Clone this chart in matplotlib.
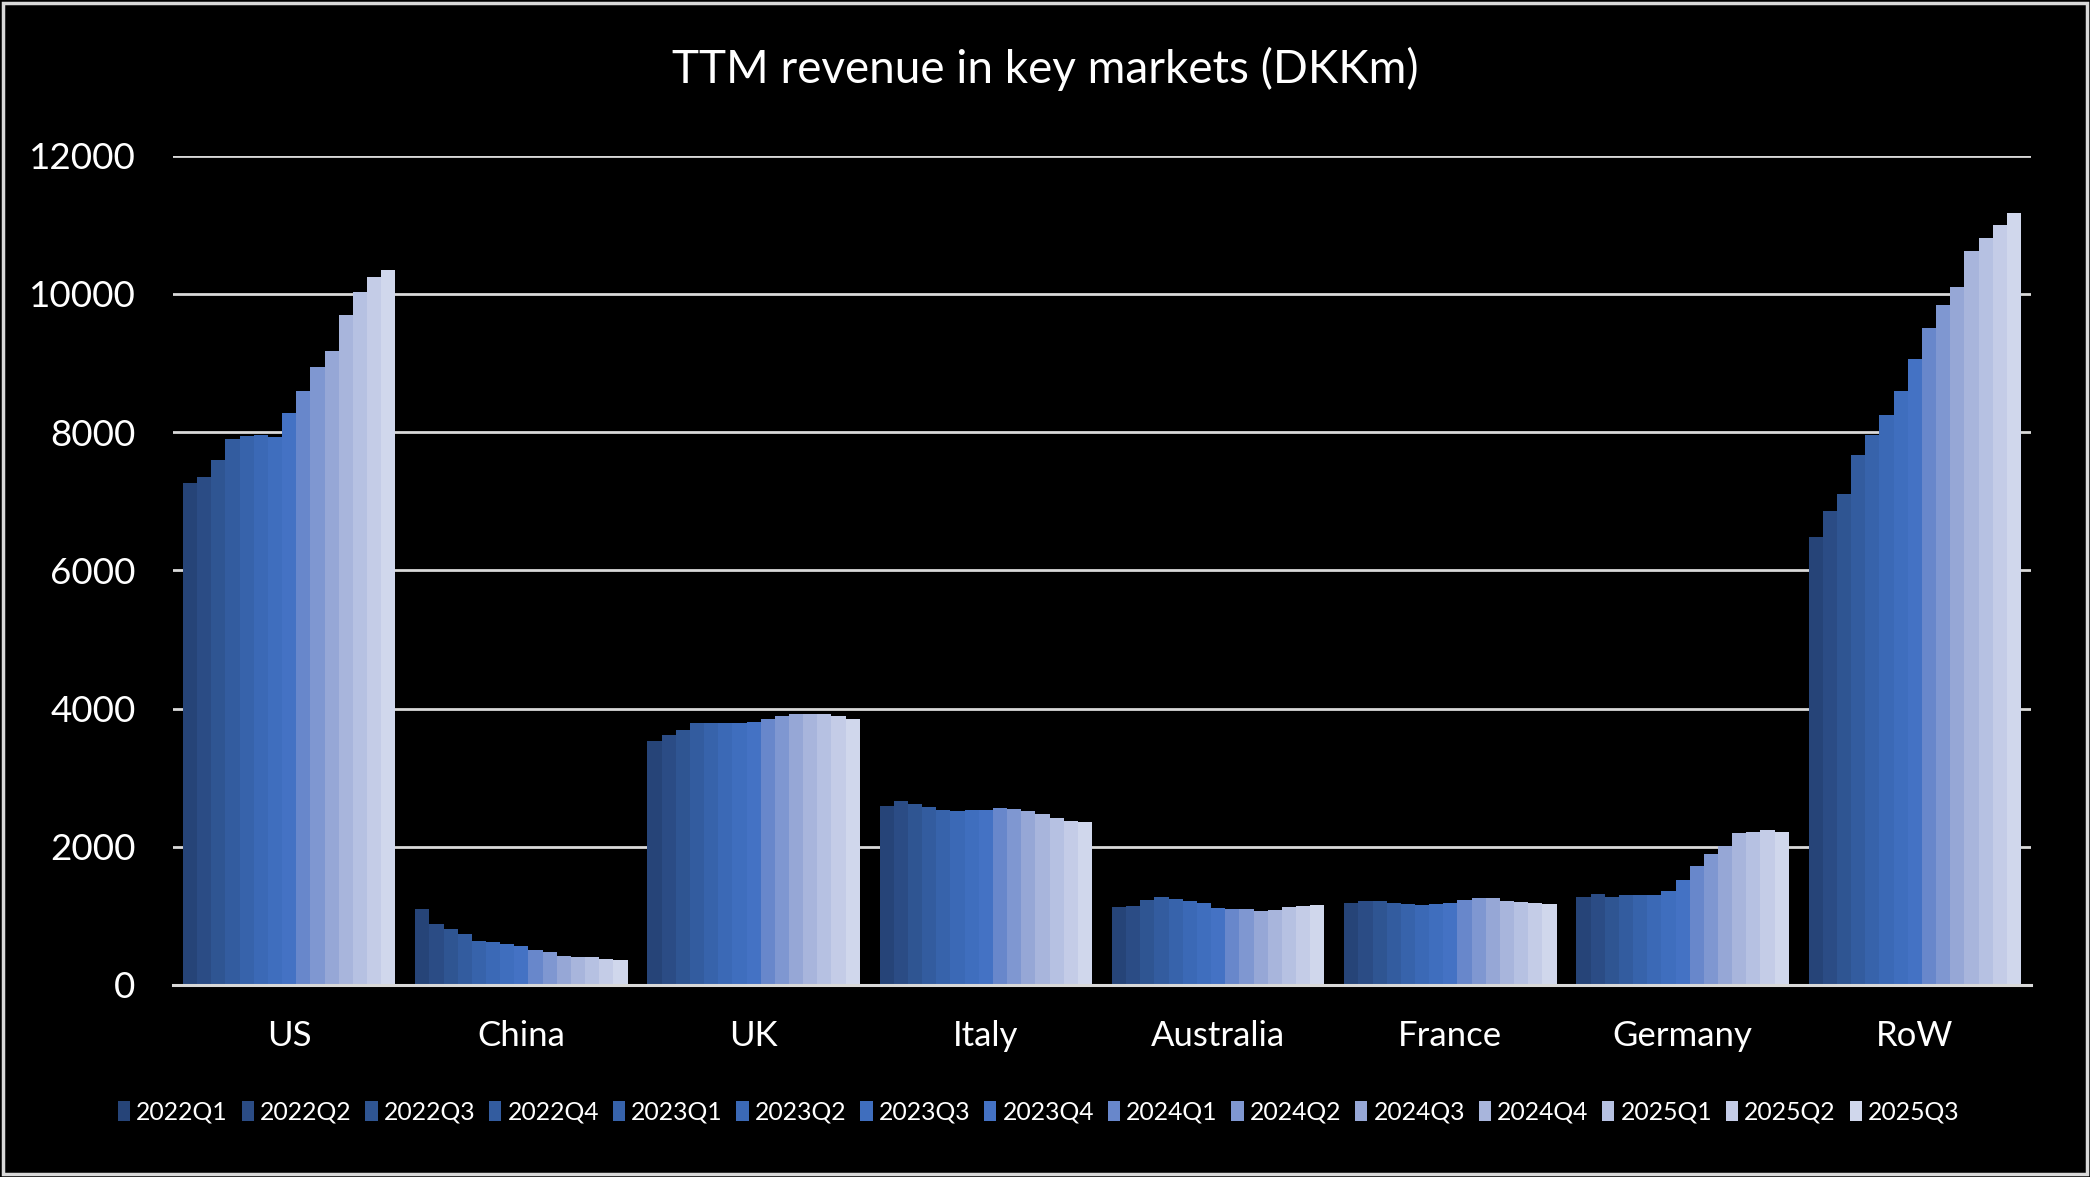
import matplotlib
matplotlib.use("Agg")
import matplotlib.pyplot as plt
from matplotlib.patches import Rectangle
import numpy as np

plt.rcParams['font.family'] = ['Lato', 'DejaVu Sans']

categories = ["US", "China", "UK", "Italy", "Australia", "France", "Germany", "RoW"]
quarters = ["2022Q1", "2022Q2", "2022Q3", "2022Q4", "2023Q1", "2023Q2", "2023Q3", "2023Q4",
            "2024Q1", "2024Q2", "2024Q3", "2024Q4", "2025Q1", "2025Q2", "2025Q3"]

us = [7270, 7350, 7600, 7900, 7950, 7960, 7930, 8280, 8600, 8940, 9170, 9700, 10030, 10240, 10340]
china = [1094, 877, 805, 733, 631, 617, 588, 559, 501, 472, 415, 400, 400, 371, 357]
uk = [3528, 3624, 3697, 3798, 3798, 3784, 3798, 3812, 3856, 3899, 3919, 3919, 3928, 3899, 3842]
italy = [2583, 2656, 2612, 2569, 2526, 2511, 2526, 2526, 2555, 2540, 2511, 2468, 2410, 2367, 2352]
australia = [1123, 1137, 1224, 1268, 1239, 1210, 1181, 1109, 1094, 1094, 1065, 1080, 1123, 1137, 1152]
france = [1181, 1210, 1210, 1181, 1166, 1152, 1166, 1181, 1224, 1253, 1253, 1210, 1195, 1181, 1166]
germany = [1268, 1311, 1277, 1297, 1297, 1297, 1354, 1513, 1716, 1889, 2015, 2193, 2217, 2236, 2208]
row = [6478, 6858, 7112, 7664, 7963, 8254, 8590, 9052, 9500, 9835, 10104, 10627, 10803, 10991, 11164]

markets = [us, china, uk, italy, australia, france, germany, row]

colors = ['#264478', '#2b4c85', '#2f5592', '#335c9f', '#3763ab', '#3b69b6', '#3f6ebe', '#4472c4',
          '#6887cb', '#7f97d1', '#96a7d6', '#a8b5dc', '#b6c1e2', '#c4cce7', '#d0d7ec']

W, H = 2090, 1177
fig = plt.figure(figsize=(W / 100, H / 100), dpi=100, facecolor='black')
ax = fig.add_axes([173 / W, 1 - 985 / H, (2031 - 173) / W, (985 - 155.7) / H])
ax.set_facecolor('black')

n = len(quarters)
bw = 0.914 / n
x = np.arange(len(categories))
for i, q in enumerate(quarters):
    vals = [m[i] for m in markets]
    ax.bar(x + (i - (n - 1) / 2) * bw, vals, width=bw, color=colors[i], label=q,
           zorder=3, linewidth=0)

ax.set_xlim(-0.5, len(categories) - 0.5)
ax.set_ylim(0, 12000)
ax.set_yticks(np.arange(0, 12001, 2000))
ax.set_yticklabels([str(v) for v in range(0, 12001, 2000)])
ax.yaxis.grid(True, color='#d9d9d9', linewidth=2.0, zorder=0)
ax.set_axisbelow(True)
for s in ['top', 'right', 'left']:
    ax.spines[s].set_visible(False)
ax.spines['bottom'].set_color('#d9d9d9')
ax.spines['bottom'].set_linewidth(2.2)
ax.spines['bottom'].set_zorder(4)
ax.set_xticks(x)
ax.set_xticklabels(categories)
ax.tick_params(axis='both', length=0, colors='white')
ax.tick_params(axis='y', pad=27, labelsize=26.5)
ax.tick_params(axis='x', pad=25, labelsize=25)

fig.text(0.5, 1 - 69 / H, "TTM revenue in key markets (DKKm)", color='white',
         fontsize=33, ha='center', va='center')

leg = fig.legend(loc='center', bbox_to_anchor=(0.497, 1 - 1112 / H), ncol=n, frameon=False,
                 fontsize=17.8, handlelength=0.5, handleheight=0.9, handletextpad=0.25,
                 columnspacing=0.55, labelcolor='white')

fig.patches.append(Rectangle((0.0015, 0.0025), 0.997, 0.995, transform=fig.transFigure,
                             fill=False, edgecolor='#d9d9d9', linewidth=2.5))

fig.savefig("out.png", dpi=100, facecolor='black')
